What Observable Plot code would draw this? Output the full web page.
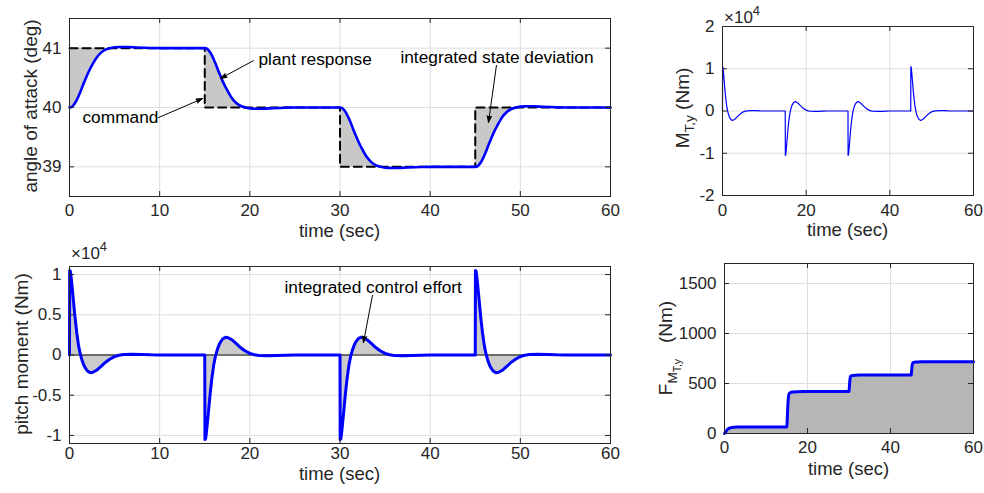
<!DOCTYPE html>
<html><head><meta charset="utf-8">
<script src="https://cdn.jsdelivr.net/npm/d3@7"></script>
<script src="https://cdn.jsdelivr.net/npm/@observablehq/plot@0.6"></script>
<style>
body{margin:0;background:#fff;}
#root{position:relative;width:984px;height:493px;overflow:hidden;background:#fff;}
#root>svg{position:absolute;}
</style></head><body><div id="root"></div>
<script>
// ---------- data ----------
// command steps (angle of attack, deg)
const cmdTime  = [0, 15, 30, 45];
const cmdLevel = [41, 40, 39, 40];
const timeEnd = 60;

// plant response (angle of attack, deg)
const alphaTime = [
  0,0.25,0.5,0.75,1,1.25,1.5,1.75,2,2.25,2.5,2.75,3,3.5,4,4.5,5,5.5,6.5,7.5,9,10,12,
  15,15.25,15.5,15.75,16,16.25,16.5,16.75,17,17.25,17.5,17.75,18,18.5,19,19.5,20,20.5,21.5,22.5,24,25,27,
  30,30.25,30.5,30.75,31,31.25,31.5,31.75,32,32.25,32.5,32.75,33,33.5,34,34.5,35,35.5,36.5,37.5,39,40,42,
  45,45.25,45.5,45.75,46,46.25,46.5,46.75,47,47.25,47.5,47.75,48,48.5,49,49.5,50,50.5,51.5,52.5,54,55,57,60];
const alphaValue = [
  40,40.01,40.05,40.11,40.19,40.28,40.38,40.47,40.56,40.64,40.71,40.78,40.84,40.925,40.975,41.0,41.015,41.02,41.02,41.012,41.003,41.0,41.0,
  41,40.99,40.95,40.89,40.81,40.72,40.62,40.53,40.44,40.36,40.29,40.22,40.16,40.075,40.025,40.0,39.985,39.98,39.98,39.988,39.997,40,40,
  40,39.99,39.95,39.89,39.81,39.72,39.62,39.53,39.44,39.36,39.29,39.22,39.16,39.075,39.025,39.0,38.985,38.98,38.98,38.988,38.997,39,39,
  39,39.01,39.05,39.11,39.19,39.28,39.38,39.47,39.56,39.64,39.71,39.78,39.84,39.925,39.975,40.0,40.015,40.02,40.02,40.012,40.003,40,40,40];

// pitch moment (x1e4 Nm)
const momentTime = [
  0,0.02,0.1,0.2,0.4,0.6,0.8,1.0,1.2,1.4,1.6,1.8,2.0,2.3,2.6,3.0,3.5,4.0,4.5,5.0,5.5,6.0,7.0,8.0,9.0,10,15,
  15.02,15.1,15.2,15.4,15.6,15.8,16.0,16.2,16.4,16.6,16.8,17.0,17.3,17.6,18.0,18.5,19.0,19.5,20.0,20.5,21.0,22.0,23.0,24.0,25,30,
  30.02,30.1,30.2,30.4,30.6,30.8,31.0,31.2,31.4,31.6,31.8,32.0,32.3,32.6,33.0,33.5,34.0,34.5,35.0,35.5,36.0,37.0,38.0,39.0,40,45,
  45.02,45.1,45.2,45.4,45.6,45.8,46.0,46.2,46.4,46.6,46.8,47.0,47.3,47.6,48.0,48.5,49.0,49.5,50.0,50.5,51.0,52.0,53.0,54.0,55,60];
const momentValue = [
  0,1.05,1.04,0.95,0.72,0.48,0.28,0.12,0.01,-0.07,-0.13,-0.17,-0.20,-0.22,-0.215,-0.19,-0.14,-0.09,-0.05,-0.02,-0.003,0.005,0.01,0.007,0.002,0,0,
  -1.05,-1.04,-0.95,-0.72,-0.48,-0.28,-0.12,-0.01,0.07,0.13,0.17,0.20,0.22,0.215,0.19,0.14,0.09,0.05,0.02,0.003,-0.005,-0.01,-0.007,-0.002,0,0,
  -1.05,-1.04,-0.95,-0.72,-0.48,-0.28,-0.12,-0.01,0.07,0.13,0.17,0.20,0.22,0.215,0.19,0.14,0.09,0.05,0.02,0.003,-0.005,-0.01,-0.007,-0.002,0,0,
  1.05,1.04,0.95,0.72,0.48,0.28,0.12,0.01,-0.07,-0.13,-0.17,-0.20,-0.22,-0.215,-0.19,-0.14,-0.09,-0.05,-0.02,-0.003,0.005,0.01,0.007,0.002,0,0];

// integrated control effort F (Nm)
const effortTime  = [0,0.2,0.4,0.6,0.8,1.0,1.3,1.7,2.2,3,5,15,15.1,15.2,15.3,15.4,15.5,15.7,16,16.5,17.5,19,21,30,30.1,30.2,30.3,30.4,30.6,31,31.5,32.5,34,45,45.1,45.2,45.3,45.4,45.6,46,46.5,47.5,49,60];
const effortValue = [0,8,22,35,44,50,55,59,62,64,65,65,120,220,310,365,390,405,412,415,417,419,420,420,470,530,560,572,578,581,583,584,585,585,630,680,698,706,711,714,716,717,717,717];

// ticks
const stateXTicks = [0,10,20,30,40,50,60];
const stateYTicks = [39,40,41];
const momentYTicks = [-1,-0.5,0,0.5,1];
const smallXTicks = [0,20,40,60];
const mtyYTicks = [-2,-1,0,1,2];
const effortYTicks = [0,500,1000,1500];

// annotations
const stateNotes = [
  {text:"plant response", t:20.96, v:40.81},
  {text:"command", t:1.44, v:39.83},
  {text:"integrated state deviation", t:36.7, v:40.84}];
const stateArrows = [
  {t1:20.4, v1:40.79, t2:16.75, v2:40.49},
  {t1:9.87, v1:39.83, t2:14.75, v2:40.15},
  {t1:47.35, v1:40.71, t2:46.47, v2:39.75}];
const momentNotes = [{text:"integrated control effort", t:23.84, v:0.839}];
const momentArrows = [{t1:33.6, v1:0.74, t2:32.6, v2:0.155}];

// ---------- tables ----------
const cmdAt = t => { let v = cmdLevel[0]; for (let i=0;i<cmdTime.length;i++) if (t>=cmdTime[i]) v = cmdLevel[i]; return v; };
const cmdLine = [];
cmdTime.forEach((t,i) => { if (i>0) cmdLine.push({t, v:cmdLevel[i-1]}); cmdLine.push({t, v:cmdLevel[i]}); });
cmdLine.push({t:timeEnd, v:cmdLevel[cmdLevel.length-1]});
const alpha = alphaTime.map((t,i)=>({t, v:alphaValue[i]}));
const stateArea = [];
alpha.forEach(d => {
  const i = cmdTime.indexOf(d.t);
  if (i>0) stateArea.push({t:d.t, c:cmdLevel[i-1], r:d.v});
  stateArea.push({t:d.t, c:cmdAt(d.t), r:d.v});
});
const moment = momentTime.map((t,i)=>({t, m:momentValue[i]}));
const effort = effortTime.map((t,i)=>({t, f:effortValue[i]}));

// ---------- drawing ----------
const FONT = "'Liberation Sans', Arial, Helvetica, sans-serif";
const INK = "#262626";
const BLUE = "#0000ff";
const root = document.getElementById("root");
const fmt = d => String(d);

function panel(cfg) {
  const iw = cfg.width - cfg.ml - cfg.mr, ih = cfg.height - cfg.mt - cfg.mb;
  const svg = Plot.plot({
    width: cfg.width, height: cfg.height,
    marginLeft: cfg.ml, marginRight: cfg.mr, marginTop: cfg.mt, marginBottom: cfg.mb,
    style: {background:"transparent", fontFamily:FONT, fontSize:"17px", color:INK, overflow:"visible"},
    x: {domain: cfg.xDomain},
    y: {domain: cfg.yDomain},
    marks: [
      Plot.gridX(cfg.xGrid, {stroke:"#dedede", strokeOpacity:1}),
      Plot.gridY(cfg.yGrid, {stroke:"#dedede", strokeOpacity:1}),
      ...cfg.marks,
      Plot.ruleX(cfg.xTicks, {insetTop: ih-5, stroke:INK}),
      Plot.ruleX(cfg.xTicks, {insetBottom: ih-5, stroke:INK}),
      Plot.ruleY(cfg.yTicks, {insetRight: iw-5, stroke:INK}),
      Plot.ruleY(cfg.yTicks, {insetLeft: iw-5, stroke:INK}),
      Plot.frame({stroke:INK}),
      Plot.axisX(cfg.xTicks, {tickSize:0, tickPadding:cfg.xpad, label:null, tickFormat:fmt, fill:INK}),
      Plot.axisY(cfg.yTicks, {tickSize:0, tickPadding:8, label:null, tickFormat:fmt, fill:INK})
    ]
  });
  svg.style.left = cfg.left + "px";
  svg.style.top = cfg.top + "px";
  const s = d3.select(svg);
  // x label
  s.append("text").attr("x", cfg.xlab[0]).attr("y", cfg.xlab[1])
    .attr("text-anchor","middle").attr("dominant-baseline","central")
    .attr("font-family",FONT).attr("font-size",18.5).attr("fill",INK).text("time (sec)");
  // y label (rotated, with tspans)
  const yt = s.append("text").attr("transform", `translate(${cfg.ylab[0]},${cfg.ylab[1]}) rotate(-90)`)
    .attr("text-anchor","middle").attr("font-family",FONT).attr("font-size",19).attr("fill",INK);
  cfg.ylabParts.forEach(p => {
    const ts = yt.append("tspan").text(p.t);
    if (p.size) ts.attr("font-size", p.size);
    if (p.dy) ts.attr("dy", p.dy);
  });
  // exponent
  if (cfg.exp) {
    const e = s.append("text").attr("x", cfg.exp[0]).attr("y", cfg.exp[1])
      .attr("text-anchor","start")
      .attr("font-family",FONT).attr("font-size",17).attr("fill",INK);
    e.append("tspan").text("\u00d710");
    e.append("tspan").attr("dy",-8).attr("font-size",13).text("4");
  }
  root.appendChild(svg);
}

const arrowOpts = {x1:"t1", y1:"v1", x2:"t2", y2:"v2", stroke:"black", fill:"black", strokeWidth:1, headLength:10, headAngle:38};
const noteOpts = {x:"t", y:"v", text:"text", textAnchor:"start", fontSize:17.3, fill:"black"};

// top-left: angle of attack
panel({
  left:0, top:0, width:620, height:240, ml:69, mr:10, mt:18, mb:44, xpad:7,
  xDomain:[0,60], yDomain:[38.5,41.5],
  xTicks:stateXTicks, yTicks:stateYTicks,
  xGrid:stateXTicks.slice(1,-1), yGrid:stateYTicks,
  xlab:[339.5,230], ylab:[37,106],
  ylabParts:[{t:"angle of attack (deg)"}],
  marks:[
    Plot.areaY(stateArea, {x:"t", y1:"c", y2:"r", fill:"#c8c8c8"}),
    Plot.line(cmdLine, {x:"t", y:"v", stroke:"black", strokeWidth:2, strokeDasharray:"8,5"}),
    Plot.line(alpha, {x:"t", y:"v", stroke:BLUE, strokeWidth:2.6, curve:"monotone-x"}),
    Plot.arrow(stateArrows, arrowOpts),
    Plot.text(stateNotes, noteOpts)
  ]
});

// bottom-left: pitch moment
panel({
  left:0, top:240, width:620, height:253, ml:69, mr:10, mt:26, mb:50, xpad:3,
  xDomain:[0,60], yDomain:[-1.1,1.1],
  xTicks:stateXTicks, yTicks:momentYTicks,
  xGrid:stateXTicks.slice(1,-1), yGrid:momentYTicks,
  xlab:[339.5,233.5], ylab:[28,114],
  ylabParts:[{t:"pitch moment (Nm)"}],
  exp:[71,19],
  marks:[
    Plot.areaY(moment, {x:"t", y:"m", fill:"#cbcbcb"}),
    Plot.ruleY([0], {stroke:"black", strokeWidth:1}),
    Plot.line(moment, {x:"t", y:"m", stroke:BLUE, strokeWidth:3}),
    Plot.arrow(momentArrows, arrowOpts),
    Plot.text(momentNotes, noteOpts)
  ]
});

// top-right: M_T,y
panel({
  left:620, top:0, width:364, height:240, ml:102, mr:11, mt:26, mb:45, xpad:8,
  xDomain:[0,60], yDomain:[-2,2],
  xTicks:smallXTicks, yTicks:mtyYTicks,
  xGrid:smallXTicks.slice(1,-1), yGrid:mtyYTicks.slice(1,-1),
  xlab:[227.5,229], ylab:[69,108],
  ylabParts:[{t:"M"},{t:"T,y",size:13.5,dy:5},{t:" (Nm)",dy:-5}],
  exp:[104,23],
  marks:[
    Plot.line(moment, {x:"t", y:"m", stroke:BLUE, strokeWidth:1.2})
  ]
});

// bottom-right: F_{M_T,y}
panel({
  left:620, top:240, width:364, height:253, ml:104, mr:11, mt:23, mb:60, xpad:7,
  xDomain:[0,60], yDomain:[0,1700],
  xTicks:smallXTicks, yTicks:effortYTicks,
  xGrid:smallXTicks.slice(1,-1), yGrid:effortYTicks.slice(1),
  xlab:[228.5,228], ylab:[52,108],
  ylabParts:[{t:"F"},{t:"M",size:13.5,dy:5},{t:"T,y",size:10.5,dy:4},{t:"   (Nm)",dy:-9}],
  marks:[
    Plot.areaY(effort, {x:"t", y:"f", fill:"#b6b6b6"}),
    Plot.line(effort, {x:"t", y:"f", stroke:BLUE, strokeWidth:3})
  ]
});
</script>
</body></html>
